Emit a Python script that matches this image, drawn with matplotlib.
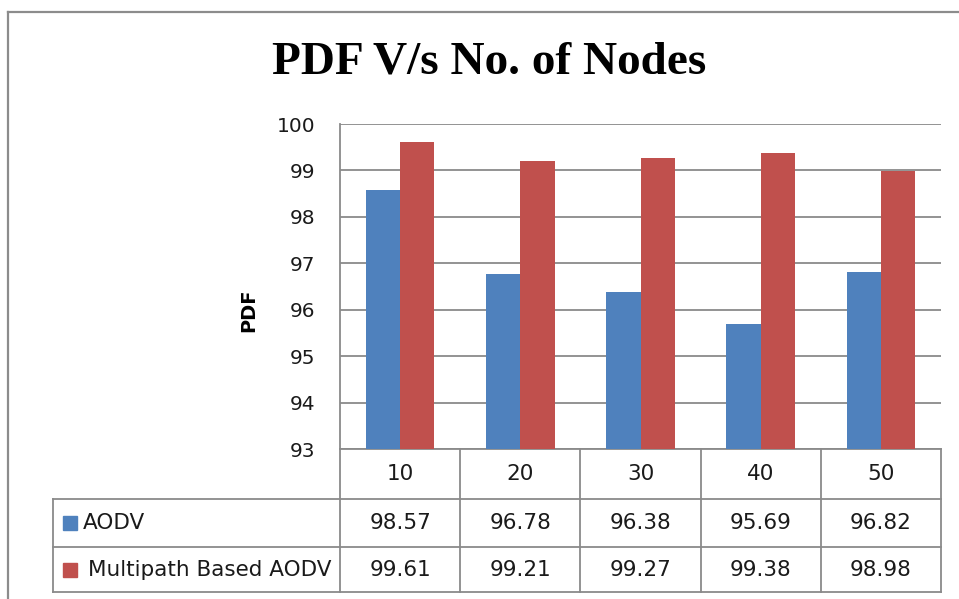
import matplotlib
matplotlib.use("Agg")
import matplotlib.pyplot as plt
from matplotlib.lines import Line2D
from matplotlib.patches import Rectangle
import matplotlib.transforms as mtransforms

categories = ["10", "20", "30", "40", "50"]
series_names = ["AODV", "Multipath Based AODV"]
aodv = [98.57, 96.78, 96.38, 95.69, 96.82]
multipath = [99.61, 99.21, 99.27, 99.38, 98.98]
yticks = [93, 94, 95, 96, 97, 98, 99, 100]
colors = ["#4F81BD", "#C0504D"]

W, H = 959, 599
fig = plt.figure(figsize=(W / 100, H / 100), dpi=100)
fig.patch.set_facecolor("white")

def fx(px):
    return px / W

def fy(py):
    return 1 - py / H

# outer chart border (partially visible)
fig.add_artist(Line2D([fx(8), fx(8)], [fy(12), 0], color="#8c8c8c", lw=1.6))
fig.add_artist(Line2D([fx(8), 1], [fy(12), fy(12)], color="#8c8c8c", lw=1.6))

L, R, T, B = 340, 941, 124, 449
ax = fig.add_axes([fx(L), fy(B), fx(R) - fx(L), fy(T) - fy(B)])
grid_c = "#8a8a8a"
x = list(range(len(categories)))
bw = 1 / 3.5
ax.bar([i - bw / 2 for i in x], [v - 93 for v in aodv], bottom=93, width=bw, color=colors[0], zorder=3)
ax.bar([i + bw / 2 for i in x], [v - 93 for v in multipath], bottom=93, width=bw, color=colors[1], zorder=3)
ax.set_xlim(-0.5, len(categories) - 0.5)
ax.set_ylim(93, 100)
ax.set_yticks(yticks)
ax.set_yticklabels([str(t) for t in yticks], fontsize=14.5, color="#1a1a1a")
ax.tick_params(axis="y", length=0, pad=17.5)
ax.set_xticks([])
ax.yaxis.grid(True, color=grid_c, lw=1.3, zorder=0)
for s in ax.spines.values():
    s.set_color(grid_c)
    s.set_linewidth(1.3)
ax.spines["top"].set_visible(False)
ax.spines["right"].set_visible(False)

fig.text(fx(249), fy(310), "PDF", rotation=90, fontsize=14, fontweight="bold",
         ha="center", va="center", color="black")
fig.text(fx(489), fy(62), "PDF V/s No. of Nodes", fontsize=34, fontweight="bold",
         family="Liberation Serif", ha="center", va="center", color="black")

# data table
trans = mtransforms.blended_transform_factory(ax.transData, fig.transFigure)
row_y = [449, 499, 547, 592]
tl = dict(color=grid_c, lw=1.3)
for i in range(len(categories) + 1):
    xv = i - 0.5
    fig.add_artist(Line2D([xv, xv], [fy(row_y[0]), fy(row_y[-1])], transform=trans, **tl))
for ry in row_y[1:]:
    fig.add_artist(Line2D([fx(53), fx(R)], [fy(ry), fy(ry)], **tl))
fig.add_artist(Line2D([fx(53), fx(53)], [fy(row_y[1]), fy(row_y[3])], **tl))

fs = 15.5
for i, c in enumerate(categories):
    fig.text(i, fy((row_y[0] + row_y[1]) / 2), c, transform=trans, ha="center", va="center",
             fontsize=fs, color="#1a1a1a")
for r, vals in enumerate([aodv, multipath]):
    yc = (row_y[r + 1] + row_y[r + 2]) / 2
    for i, v in enumerate(vals):
        fig.text(i, fy(yc), f"{v:.2f}", transform=trans, ha="center", va="center",
                 fontsize=fs, color="#1a1a1a")
    fig.add_artist(Rectangle((fx(63), fy(yc + 7)), fx(14), 14 / H, color=colors[r],
                             transform=fig.transFigure))
    fig.text(fx(83 if r == 0 else 88), fy(yc), series_names[r], ha="left", va="center",
             fontsize=fs, color="#1a1a1a")

fig.savefig("out.png", dpi=100)
